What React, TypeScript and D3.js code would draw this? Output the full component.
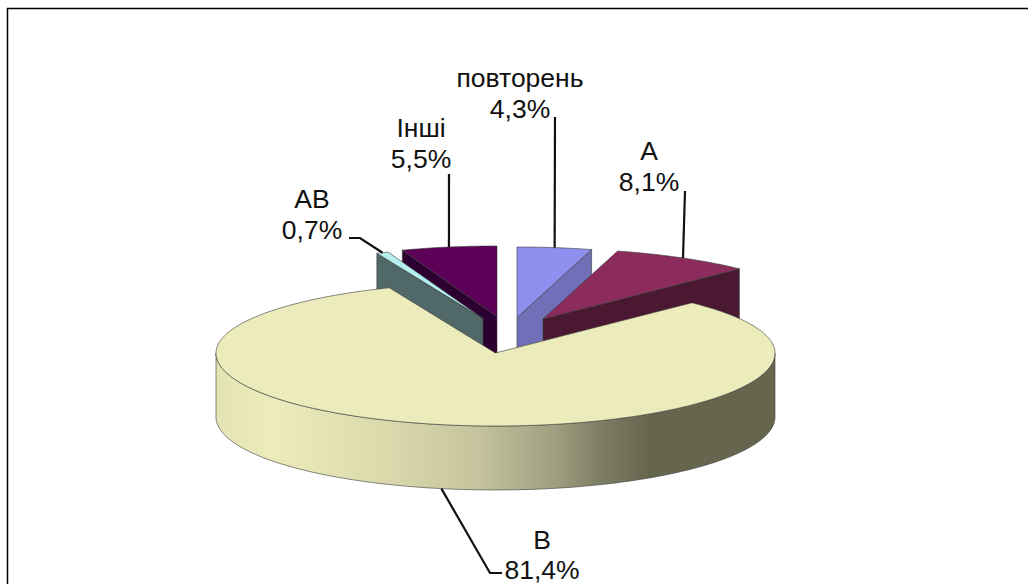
// @ts-nocheck
import React from "react";
import * as d3 from "d3";

const categories = ["повторень", "A", "B", "AB", "Інші"];
const values = [4.3, 8.1, 81.4, 0.7, 5.5];
const valueLabels = ["4,3%", "8,1%", "81,4%", "0,7%", "5,5%"];

const W = 1028,
  H = 584;
const rx = 279.5,
  ryFront = 73,
  ryBack = 70.5, // far half looks a bit flatter because of the perspective
  depth = 64;
const cx = 495.5,
  cy = 353;

// where the top point of each slice sits, exploded slices are moved by hand like in the original
const apex = {
  повторень: [517, 317.5],
  A: [543, 319],
  B: [cx, cy],
  AB: [483, 318.5],
  Інші: [497, 316.5],
};
const topColor = {
  повторень: "#8f8ff0",
  A: "#8b2c5c",
  B: "#ecebbb",
  AB: "#b4f0f0",
  Інші: "#5c0058",
};
const wallColor = {
  повторень: "#7070b8",
  A: "#4a1830",
  B: "url(#wallB)",
  AB: "#506868",
  Інші: "#2c0030",
};
// label position (centre x, baseline of first row) and leader elbow
const labelPos = {
  повторень: { x: 520, y: 87, to: [555, 117] },
  A: { x: 649, y: 160, to: [685, 191] },
  B: { x: 542, y: 549, gap: 29.5, to: [490, 573], end: [502, 573] },
  AB: { x: 312, y: 208, to: [360, 238], end: [349, 238] },
  Інші: { x: 421, y: 137, to: [449, 174] },
};
// back to front
const drawOrder = ["Інші", "AB", "повторень", "A", "B"];

const pieData = d3.pie().sort(null)(values);
const slices = categories.map((name, i) => ({
  name,
  label: valueLabels[i],
  start: pieData[i].startAngle,
  end: pieData[i].endAngle,
}));

const line = d3.line();

function pt(a, t, dy = 0) {
  const c = Math.cos(t);
  return [a[0] + rx * Math.sin(t), a[1] - (c > 0 ? ryBack : ryFront) * c + dy];
}
function arcPts(a, t0, t1, dy = 0) {
  const n = Math.max(2, Math.ceil(Math.abs(t1 - t0) / 0.02));
  return d3.range(n + 1).map((i) => pt(a, t0 + ((t1 - t0) * i) / n, dy));
}

function Slice({ s }) {
  const a = apex[s.name];
  const top = [a, ...arcPts(a, s.start, s.end)];
  let walls = [];
  if (s.name === "B") {
    // only the round front wall is seen
    const t0 = Math.PI / 2,
      t1 = (Math.PI * 3) / 2;
    walls.push([
      ...arcPts(a, t0, t1),
      ...arcPts(a, t1, t0, depth),
    ]);
  } else {
    // the cut side that looks to the viewer
    const t = s.start < Math.PI ? s.end : s.start;
    walls.push([a, pt(a, t), pt(a, t, depth), [a[0], a[1] + depth]]);
  }
  return (
    <g stroke="#3a3a3a" strokeWidth={0.6} strokeLinejoin="round">
      {walls.map((w, i) => (
        <path key={i} d={line(w) + "Z"} fill={wallColor[s.name]} />
      ))}
      <path d={line(top) + "Z"} fill={topColor[s.name]} />
    </g>
  );
}

function Label({ s }) {
  const p = labelPos[s.name];
  const mid = (s.start + s.end) / 2;
  const a = apex[s.name];
  const from = s.name === "B" ? pt(a, mid, depth) : pt(a, mid);
  const pts = [from, p.to];
  if (p.end) pts.push(p.end);
  return (
    <g>
      <path d={line(pts)} fill="none" stroke="#111" strokeWidth={2.2} />
      <text x={p.x} y={p.y} textAnchor="middle">
        <tspan x={p.x}>{s.name}</tspan>
        <tspan x={p.x} dy={p.gap || 30.5}>
          {s.label}
        </tspan>
      </text>
    </g>
  );
}

export default function App() {
  return (
    <svg
      width={W}
      height={H}
      style={{ position: "absolute", left: 0, top: 0 }}
      fontFamily="Liberation Sans, Arial, sans-serif"
      fontSize={26.5}
      fill="#111"
    >
      <defs>
        <linearGradient id="wallB" gradientUnits="userSpaceOnUse" x1={cx - rx} x2={cx + rx} y1={0} y2={0}>
          <stop offset="0" stopColor="#e4e3b3" />
          <stop offset="0.1" stopColor="#ecebbb" />
          <stop offset="0.29" stopColor="#dcdbae" />
          <stop offset="0.47" stopColor="#c4c39d" />
          <stop offset="0.615" stopColor="#9d9c7e" />
          <stop offset="0.687" stopColor="#7e7e65" />
          <stop offset="0.776" stopColor="#66664f" />
          <stop offset="1" stopColor="#66664f" />
        </linearGradient>
      </defs>
      <rect x={0} y={0} width={W} height={H} fill="#fff" />
      <rect x={7.5} y={8.5} width={1030} height={590} fill="none" stroke="#000" strokeWidth={1.5} />
      {drawOrder.map((n) => (
        <Slice key={n} s={slices.find((s) => s.name === n)} />
      ))}
      {slices.map((s) => (
        <Label key={s.name} s={s} />
      ))}
    </svg>
  );
}
